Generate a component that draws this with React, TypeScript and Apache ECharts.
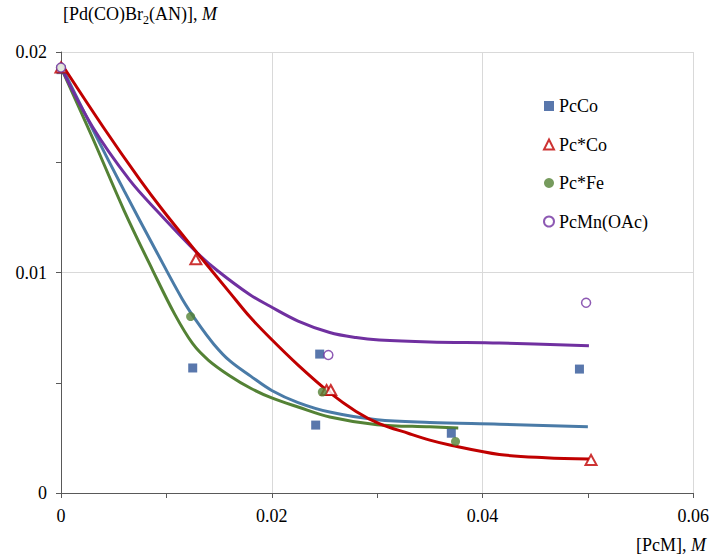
import React, { useEffect, useRef } from "react";
import * as echarts from "echarts";

// Experimental points
const pcCo: [number, number][] = [
  [0, 0.0192], [0.0125, 0.00567], [0.02455, 0.0063], [0.02417, 0.00308], [0.03704, 0.00271], [0.0492, 0.00562],
];
const pcStarCo: [number, number][] = [
  [0, 0.0193], [0.0128, 0.0106], [0.0252, 0.00467], [0.0256, 0.00467], [0.0503, 0.0015],
];
const pcStarFe: [number, number][] = [
  [0, 0.0193], [0.0123, 0.008], [0.0248, 0.00458], [0.03744, 0.00234],
];
const pcMnOAc: [number, number][] = [
  [0, 0.0193], [0.02537, 0.00626], [0.04983, 0.00863],
];

// Fitted curves
const fitPcCo: [number, number][] = [
  [0, 0.0194], [0.003, 0.0165], [0.006, 0.0137], [0.009, 0.0110], [0.0115, 0.0088],
  [0.013, 0.0077], [0.0145, 0.00675], [0.016, 0.0060], [0.018, 0.0053], [0.020, 0.00465],
  [0.0225, 0.0041], [0.0255, 0.00367], [0.030, 0.00332], [0.035, 0.0032], [0.0416, 0.00312],
  [0.050, 0.0030],
];
const fitPcStarCo: [number, number][] = [
  [0, 0.0195], [0.004, 0.0166], [0.0075, 0.0142], [0.0097, 0.0128], [0.0129, 0.0109],
  [0.016, 0.0091], [0.0179, 0.0080], [0.0198, 0.00705], [0.0225, 0.0058], [0.0255, 0.00455],
  [0.028, 0.0037], [0.0302, 0.00315], [0.033, 0.0027], [0.035, 0.0024], [0.0369, 0.00218],
  [0.0416, 0.00175], [0.046, 0.0016], [0.0501, 0.00154],
];
const fitPcStarFe: [number, number][] = [
  [0, 0.0193], [0.003, 0.0161], [0.006, 0.0128], [0.0087, 0.0101], [0.0108, 0.0081],
  [0.0125, 0.00677], [0.014, 0.00602], [0.016, 0.00532], [0.018, 0.00475], [0.020, 0.00431],
  [0.0225, 0.0039], [0.0255, 0.00345], [0.030, 0.0031], [0.035, 0.0030], [0.0377, 0.00295],
];
const fitPcMnOAc: [number, number][] = [
  [0, 0.0193], [0.003, 0.0166], [0.0065, 0.0142], [0.0091, 0.0128], [0.0129, 0.0109],
  [0.0148, 0.0101], [0.0179, 0.0090], [0.0198, 0.00848], [0.0225, 0.0078], [0.0255, 0.00728],
  [0.028, 0.00705], [0.0302, 0.00694], [0.035, 0.00685], [0.0416, 0.0068], [0.0501, 0.00668],
];

const seriesNames = ["PcCo", "Pc*Co", "Pc*Fe", "PcMn(OAc)"];
const xTicks = [0, 0.02, 0.04, 0.06];
const yTicks = [0, 0.01, 0.02];

const FONT = "'Liberation Serif', 'Times New Roman', serif";

const fmt = (v: number) => (v === 0 ? "0" : String(+v.toFixed(3)));

export default function App() {
  const ref = useRef<HTMLDivElement>(null);
  useEffect(() => {
    if (!ref.current) return;
    const chart = echarts.init(ref.current, undefined, { renderer: "svg" });
    const lineStyle = (color: string) => ({ color, width: 3 });
    chart.setOption({
      animation: false,
      backgroundColor: "#fff",
      textStyle: { fontFamily: FONT },
      grid: { left: 61, right: 18, top: 52, bottom: 62 },
      legend: {
        orient: "vertical",
        left: 543,
        top: 97,
        padding: 0,
        itemGap: 20.5,
        itemWidth: 10,
        itemHeight: 10,
        data: seriesNames,
        textStyle: { fontFamily: FONT, fontSize: 18, color: "#000" },
      },
      xAxis: {
        type: "value",
        min: xTicks[0],
        max: xTicks[xTicks.length - 1],
        interval: 0.02,
        axisLine: { lineStyle: { color: "#595959", width: 1 } },
        axisTick: { show: true, length: 5, lineStyle: { color: "#595959" } },
        minorTick: { show: true, splitNumber: 2, length: 5, lineStyle: { color: "#595959" } },
        splitLine: { show: true, lineStyle: { color: "#d9d9d9", width: 1 } },
        axisLabel: { fontFamily: FONT, fontSize: 18, color: "#000", margin: 14, formatter: fmt },
      },
      yAxis: {
        type: "value",
        min: yTicks[0],
        max: yTicks[yTicks.length - 1],
        interval: 0.01,
        axisLine: { show: true, lineStyle: { color: "#595959", width: 1 } },
        axisTick: { show: true, length: 5, lineStyle: { color: "#595959" } },
        minorTick: { show: true, splitNumber: 2, length: 5, lineStyle: { color: "#595959" } },
        splitLine: { show: true, lineStyle: { color: "#d9d9d9", width: 1 } },
        axisLabel: { fontFamily: FONT, fontSize: 18, color: "#000", margin: 14, formatter: fmt },
      },
      graphic: [
        {
          type: "text",
          x: 63,
          y: 14,
          style: {
            text: "{a|[Pd(CO)Br}{s|2}{a|(AN)], }{i|M}",
            verticalAlign: "middle",
            align: "left",
            rich: {
              a: { fontFamily: FONT, fontSize: 18, color: "#000", lineHeight: 24, verticalAlign: "middle" },
              s: { fontFamily: FONT, fontSize: 12, color: "#000", lineHeight: 24, verticalAlign: "bottom" },
              i: { fontFamily: FONT, fontSize: 18, color: "#000", fontStyle: "italic", lineHeight: 24, verticalAlign: "middle" },
            },
          },
        },
        {
          type: "text",
          x: 706,
          y: 545,
          style: {
            text: "{a|[PcM], }{i|M}",
            verticalAlign: "middle",
            align: "right",
            rich: {
              a: { fontFamily: FONT, fontSize: 18, color: "#000" },
              i: { fontFamily: FONT, fontSize: 18, color: "#000", fontStyle: "italic" },
            },
          },
        },
      ],
      series: [
        { type: "line", data: fitPcStarFe, smooth: 0.35, showSymbol: false, lineStyle: lineStyle("#548235"), z: 2 },
        { type: "line", data: fitPcCo, smooth: 0.35, showSymbol: false, lineStyle: lineStyle("#4a7ba7"), z: 2 },
        { type: "line", data: fitPcMnOAc, smooth: 0.35, showSymbol: false, lineStyle: lineStyle("#7030a0"), z: 2 },
        { type: "line", data: fitPcStarCo, smooth: 0.35, showSymbol: false, lineStyle: lineStyle("#c00000"), z: 2 },
        {
          name: seriesNames[0], type: "scatter", data: pcCo, symbol: "rect", symbolSize: 9,
          itemStyle: { color: "#2f5597" }, z: 5,
        },
        {
          name: seriesNames[1], type: "scatter", data: pcStarCo, symbol: "triangle", symbolSize: [11, 10],
          itemStyle: { color: "#fff", borderColor: "#c00000", borderWidth: 2 }, z: 5,
        },
        {
          name: seriesNames[2], type: "scatter", data: pcStarFe, symbol: "circle", symbolSize: 9,
          itemStyle: { color: "#548235" }, z: 5,
        },
        {
          name: seriesNames[3], type: "scatter", data: pcMnOAc, symbol: "circle", symbolSize: 9,
          itemStyle: { color: "#fff", borderColor: "#7030a0", borderWidth: 1.5 }, z: 5,
        },
      ],
    });
    return () => chart.dispose();
  }, []);
  return <div ref={ref} style={{ width: 712, height: 555, position: "absolute", left: 0, top: 0 }} />;
}
